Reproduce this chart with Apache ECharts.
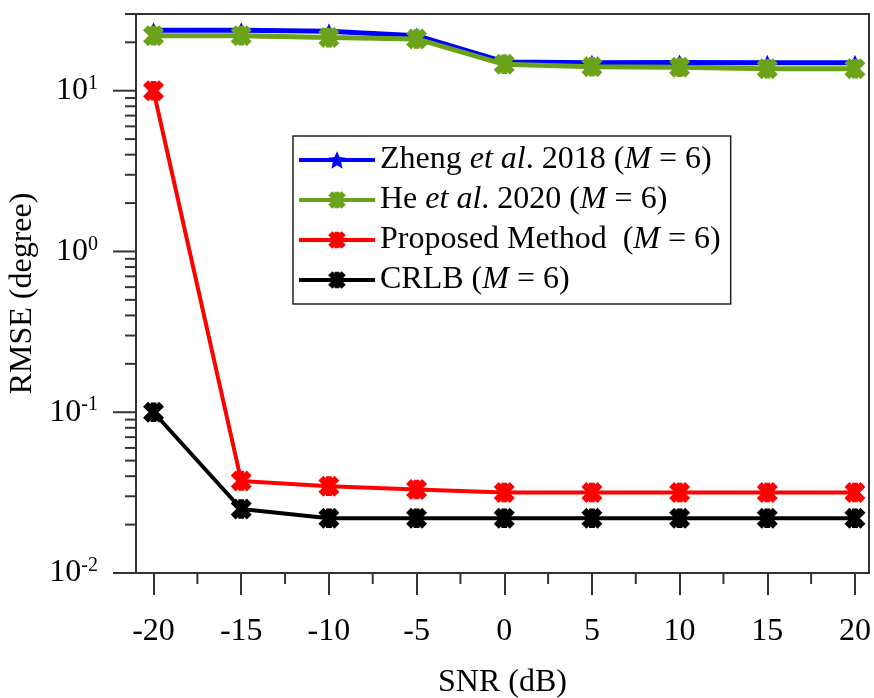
<!DOCTYPE html>
<html>
<head>
<meta charset="utf-8">
<script src="https://cdn.jsdelivr.net/npm/echarts@6/dist/echarts.min.js"></script>
<style>
html,body{margin:0;padding:0;background:#fff;}
#chart{width:874px;height:698px;}
</style>
</head>
<body>
<div id="chart"></div>
<script>
// ---- data ----
const snr = [-20, -15, -10, -5, 0, 5, 10, 15, 20];
const zheng = [23.8, 23.8, 23.4, 22.0, 15.1, 14.9, 15.0, 14.9, 14.9];
const he = [22.0, 22.0, 21.4, 21.0, 14.6, 14.1, 14.0, 13.7, 13.7];
const proposed = [10, 0.0374, 0.0347, 0.0331, 0.0317, 0.0317, 0.0317, 0.0317, 0.0317];
const crlb = [0.1, 0.025, 0.0219, 0.0219, 0.0219, 0.0219, 0.0219, 0.0219, 0.0219];
const seriesNames = ['Zheng et al. 2018 (M = 6)', 'He et al. 2020 (M = 6)', 'Proposed Method  (M = 6)', 'CRLB (M = 6)'];
const legendRich = ['Zheng {i|et al}. 2018 ({i|M} = 6)', 'He {i|et al}. 2020 ({i|M} = 6)', 'Proposed Method  ({i|M} = 6)', 'CRLB ({i|M} = 6)'];
const xMajorTicks = [-20, -15, -10, -5, 0, 5, 10, 15, 20];
const xMinorTicks = [-17.5, -12.5, -7.5, -2.5, 2.5, 7.5, 12.5, 17.5];
const yMajorTicks = [0.01, 0.1, 1, 10];
const yMinorTicks = [0.02,0.03,0.04,0.05,0.06,0.07,0.08,0.09,0.2,0.3,0.4,0.5,0.6,0.7,0.8,0.9,2,3,4,5,6,7,8,9,20,30];
const X_MIN = -21, X_MAX = 20.8, Y_MIN = 0.01, Y_MAX = 30;

const FONT = 'Liberation Serif';
const FS = 32;
const AX = '#333';
const asterisk = 'path://M35 0L65 0L65 100L35 100Z M-3.6 21.8L21.8 -3.6L103.6 78.2L78.2 103.6Z M78.2 -3.6L103.6 21.8L21.8 103.6L-3.6 78.2Z';
const star = 'path://M50 0L64 30L98 34L73 57L80 92L50 74L20 92L27 57L2 34L36 30Z';

function pairs(ys) { return snr.map((x, i) => [x, ys[i]]); }

function yTickSeries(vals, len) {
  return {
    type: 'custom', silent: true, clip: false, z: 5,
    data: vals.map(v => [X_MIN, v]),
    encode: {x: 0, y: 1},
    renderItem: (params, api) => {
      const p = api.coord([api.value(0), api.value(1)]);
      return {type: 'line', shape: {x1: p[0] - len, y1: p[1], x2: p[0], y2: p[1]}, style: {stroke: AX, lineWidth: 2}};
    }
  };
}
function xTickSeries(vals, len) {
  return {
    type: 'custom', silent: true, clip: false, z: 5,
    data: vals.map(v => [v, Y_MIN]),
    encode: {x: 0, y: 1},
    renderItem: (params, api) => {
      const p = api.coord([api.value(0), api.value(1)]);
      return {type: 'line', shape: {x1: p[0], y1: p[1], x2: p[0], y2: p[1] + len}, style: {stroke: AX, lineWidth: 2}};
    }
  };
}

const chart = echarts.init(document.getElementById('chart'), null, {renderer: 'canvas'});
chart.setOption({
  animation: false,
  backgroundColor: '#fff',
  grid: {left: 136, right: 5, top: 14, bottom: 125, show: true, borderColor: AX, borderWidth: 2, containLabel: false, outerBoundsMode: 'none'},
  legend: {
    data: seriesNames,
    orient: 'vertical', left: 293, top: 136,
    padding: [8, 10, 8, 4], itemGap: 8, itemWidth: 76, itemHeight: 22,
    borderColor: '#222', borderWidth: 1.5, backgroundColor: '#fff',
    selectedMode: false,
    lineStyle: {width: 4},
    formatter: name => legendRich[seriesNames.indexOf(name)],
    textStyle: {fontFamily: FONT, fontSize: FS, color: '#000',
      rich: {i: {fontFamily: FONT, fontSize: FS, fontStyle: 'italic', color: '#000'}}}
  },
  xAxis: {
    type: 'value', min: X_MIN, max: X_MAX,
    name: 'SNR (dB)', nameLocation: 'middle', nameGap: 94,
    nameTextStyle: {fontFamily: FONT, fontSize: FS, color: '#000'},
    axisLine: {show: true, onZero: false, lineStyle: {color: AX, width: 2}},
    axisTick: {show: true, customValues: xMajorTicks, length: 22, inside: false, lineStyle: {color: AX, width: 2}},
    axisLabel: {customValues: xMajorTicks, margin: 43, fontFamily: FONT, fontSize: FS, color: '#000', formatter: v => String(v)},
    splitLine: {show: false}
  },
  yAxis: {
    type: 'log', logBase: 10, min: Y_MIN, max: Y_MAX,
    name: 'RMSE (degree)', nameLocation: 'middle', nameGap: 89,
    nameTextStyle: {fontFamily: FONT, fontSize: FS, color: '#000'},
    axisLine: {show: true, onZero: false, lineStyle: {color: AX, width: 2}},
    axisTick: {show: false},
    axisLabel: {
      margin: 38, fontFamily: FONT, fontSize: FS, color: '#000',
      formatter: v => {
        const e = Math.round(Math.log10(v));
        if (Math.abs(Math.pow(10, e) - v) / v > 1e-6) return '';
        return '10{sup|' + e + '}';
      },
      rich: {sup: {fontFamily: FONT, fontSize: 20, color: '#000', verticalAlign: 'top', padding: [0, 0, 14, 0]}}
    },
    splitLine: {show: false}
  },
  series: [
    {name: seriesNames[0], type: 'line', data: pairs(zheng), symbol: star, symbolSize: 16,
      lineStyle: {color: '#0000ff', width: 5}, itemStyle: {color: '#0000ff'}, z: 2},
    {name: seriesNames[1], type: 'line', data: pairs(he), symbol: asterisk, symbolSize: 21,
      lineStyle: {color: '#6aa21a', width: 5}, itemStyle: {color: '#6aa21a'}, z: 3},
    {name: seriesNames[2], type: 'line', data: pairs(proposed), symbol: asterisk, symbolSize: 21,
      lineStyle: {color: '#ff0000', width: 4}, itemStyle: {color: '#ff0000'}, z: 4},
    {name: seriesNames[3], type: 'line', data: pairs(crlb), symbol: asterisk, symbolSize: 21,
      lineStyle: {color: '#000000', width: 4}, itemStyle: {color: '#000000'}, z: 3},
    yTickSeries(yMajorTicks, 23),
    yTickSeries(yMinorTicks, 11),
    xTickSeries(xMinorTicks, 11)
  ]
});
</script>
</body>
</html>
